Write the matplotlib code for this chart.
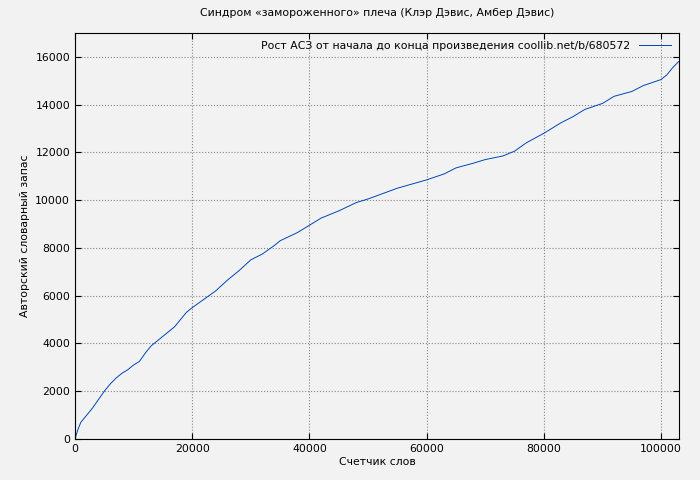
import matplotlib
matplotlib.use("Agg")
import matplotlib.pyplot as plt

words = [0, 500, 1000, 2000, 3000, 4000, 5000, 6000, 7000, 8000, 9000, 10000, 11000, 12000, 13000,
         15000, 17000, 19000, 20000, 22000, 24000, 26000, 28000, 30000, 32000, 34000, 35000, 38000,
         40000, 42000, 45000, 48000, 50000, 55000, 60000, 63000, 65000, 68000, 70000, 73000, 75000,
         77000, 80000, 83000, 85000, 87000, 90000, 92000, 95000, 97000, 100000, 101000, 102000, 103000]
vocab = [0, 400, 700, 1000, 1300, 1650, 2000, 2300, 2550, 2750, 2900, 3100, 3250, 3600, 3900,
         4300, 4700, 5300, 5500, 5850, 6200, 6650, 7050, 7500, 7750, 8100, 8300, 8650,
         8950, 9250, 9550, 9900, 10050, 10500, 10850, 11100, 11350, 11550, 11700, 11850, 12050,
         12400, 12800, 13250, 13500, 13800, 14050, 14350, 14550, 14800, 15050, 15250, 15550, 15800]

plt.rcParams['font.size'] = 7.8
fig = plt.figure(figsize=(7, 4.8), dpi=100, facecolor='#f2f2f2')
ax = fig.add_axes([75/700, 1-439/480, 604/700, 406/480], facecolor='#f2f2f2')
ax.plot(words, vocab, color='#0046b4', lw=0.7,
        label='Рост АСЗ от начала до конца произведения coollib.net/b/680572')
ax.set_xlim(0, 103070)
ax.set_ylim(0, 17000)
ax.set_xticks(range(0, 100001, 20000))
ax.set_yticks(range(0, 16001, 2000))
ax.grid(True, color='#888888', linestyle=':', lw=0.8)
ax.tick_params(direction='in', top=True, right=True, length=4)
ax.set_xlabel('Счетчик слов', labelpad=2)
ax.set_ylabel('Авторский словарный запас')
ax.set_title('Синдром «замороженного» плеча (Клэр Дэвис, Амбер Дэвис)', fontsize=7.8, pad=12)
leg = ax.legend(loc='upper right', frameon=False, markerfirst=False, handlelength=3, borderaxespad=0.3)
fig.savefig('out.png', dpi=100, facecolor=fig.get_facecolor())
